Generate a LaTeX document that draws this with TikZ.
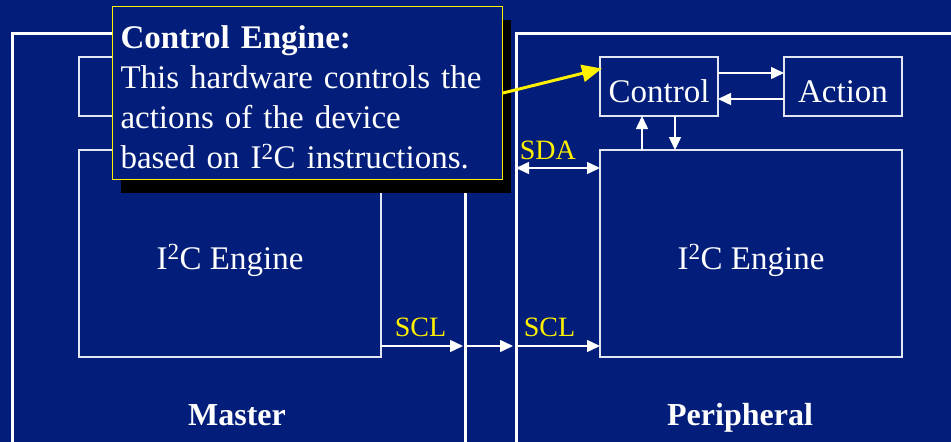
\documentclass[tikz,border=0pt]{standalone}
\usepackage{fontspec}
\setmainfont{Liberation Serif}
\usetikzlibrary{arrows.meta,positioning,calc,shadows}
\definecolor{cBg}{HTML}{021D7A}
\definecolor{cYel}{HTML}{FFF000}
\definecolor{cLine}{HTML}{E2E6F0}

\begin{document}
\begin{tikzpicture}[x=1pt, y=-1pt,
  font=\fontsize{33}{40}\selectfont, text=white,
  >={Triangle[length=13pt,width=12pt]},
  outer/.style={rectangle, draw=white, line width=3pt, anchor=north west, outer sep=0pt},
  block/.style={rectangle, draw=cLine, line width=1.3pt, minimum width=#1,
     text height=31pt, text depth=0pt, inner sep=0pt, outer sep=0pt},
  wire/.style={draw=white, line width=1.5pt},
  sig/.style={text=cYel, font=\fontsize{28}{30}\selectfont, inner sep=0pt, text depth=0pt},
  side/.style={font=\fontsize{32}{36}\selectfont\bfseries, anchor=base, inner sep=0pt},
]
\useasboundingbox (0,0) rectangle (951,442);
\fill[cBg] (0,0) rectangle (951,442);

% =================== MASTER / PERIPHERAL ===================
\node[outer, minimum width=453pt, minimum height=440pt] (master) at (12,33) {};
\node[outer, minimum width=460pt, minimum height=440pt] (periph) at (516,33) {};

\node[block=302pt, minimum height=59pt] (mctrl) at (230,86.5) {};
\node[block=302pt, minimum height=207pt] (mengine) at (230,253.5) {I\textsuperscript{2}C Engine};

\node[block=118pt, minimum height=59pt] (ctrl) at (659,86.5) {Control};
\node[block=118pt, minimum height=59pt] (action) at (843,86.5) {Action};
\node[block=302pt, minimum height=207pt] (pengine) at (751,253.5) {I\textsuperscript{2}C Engine};

\node[side] (mlabel) at (237,425) {Master};
\node[side] (plabel) at (740,425) {Peripheral};

% control <-> action, control <-> engine
\draw[wire,->] ([yshift=13.5pt]ctrl.east) -- ([yshift=13.5pt]action.west);
\draw[wire,->] ([yshift=-12.5pt]action.west) -- ([yshift=-12.5pt]ctrl.east);
\coordinate (up) at ($(ctrl.south)+(-17,0)$);
\coordinate (dn) at ($(ctrl.south)+(16,0)$);
\draw[wire,->] (up |- pengine.north) -- (up);
\draw[wire,->] (dn) -- (dn |- pengine.north);

% bus lines
\coordinate (sda) at (0,168);
\coordinate (scl) at (0,346);
\draw[wire,<->] (periph.west |- sda) -- (pengine.west |- sda)
  node[sig, pos=0.38, above=8pt] (sdal) {SDA};
\draw[wire,->, shorten >=2pt] (mengine.east |- scl) -- (master.east |- scl)
  node[sig, pos=0.47, above=9pt] (scl1) {SCL};
\draw[wire,->, shorten <=2pt, shorten >=3pt] (master.east |- scl) -- (periph.west |- scl);
\draw[wire,->, shorten <=2pt] (periph.west |- scl) -- (pengine.west |- scl)
  node[sig, pos=0.4, above=9pt] (scl2) {SCL};

% =================== CALLOUT ===================
\node[rectangle, draw=cYel, line width=1pt, fill=cBg, anchor=north west,
      drop shadow={shadow xshift=8pt, shadow yshift=-13pt, fill=black, opacity=1},
      text width=374pt, align=left, inner xsep=8pt, inner ysep=11pt,
      text height=31pt, text depth=120pt] (callout) at (112,6)
 {\textbf{Control Engine:}\\This hardware controls the\\actions of the device\\based on I\textsuperscript{2}C instructions.};

\draw[draw=cYel, line width=3pt, -{Triangle[length=20pt,width=17pt]}]
  (callout.east) -- ($(ctrl.west)+(2,-18)$);

\end{tikzpicture}
\end{document}
